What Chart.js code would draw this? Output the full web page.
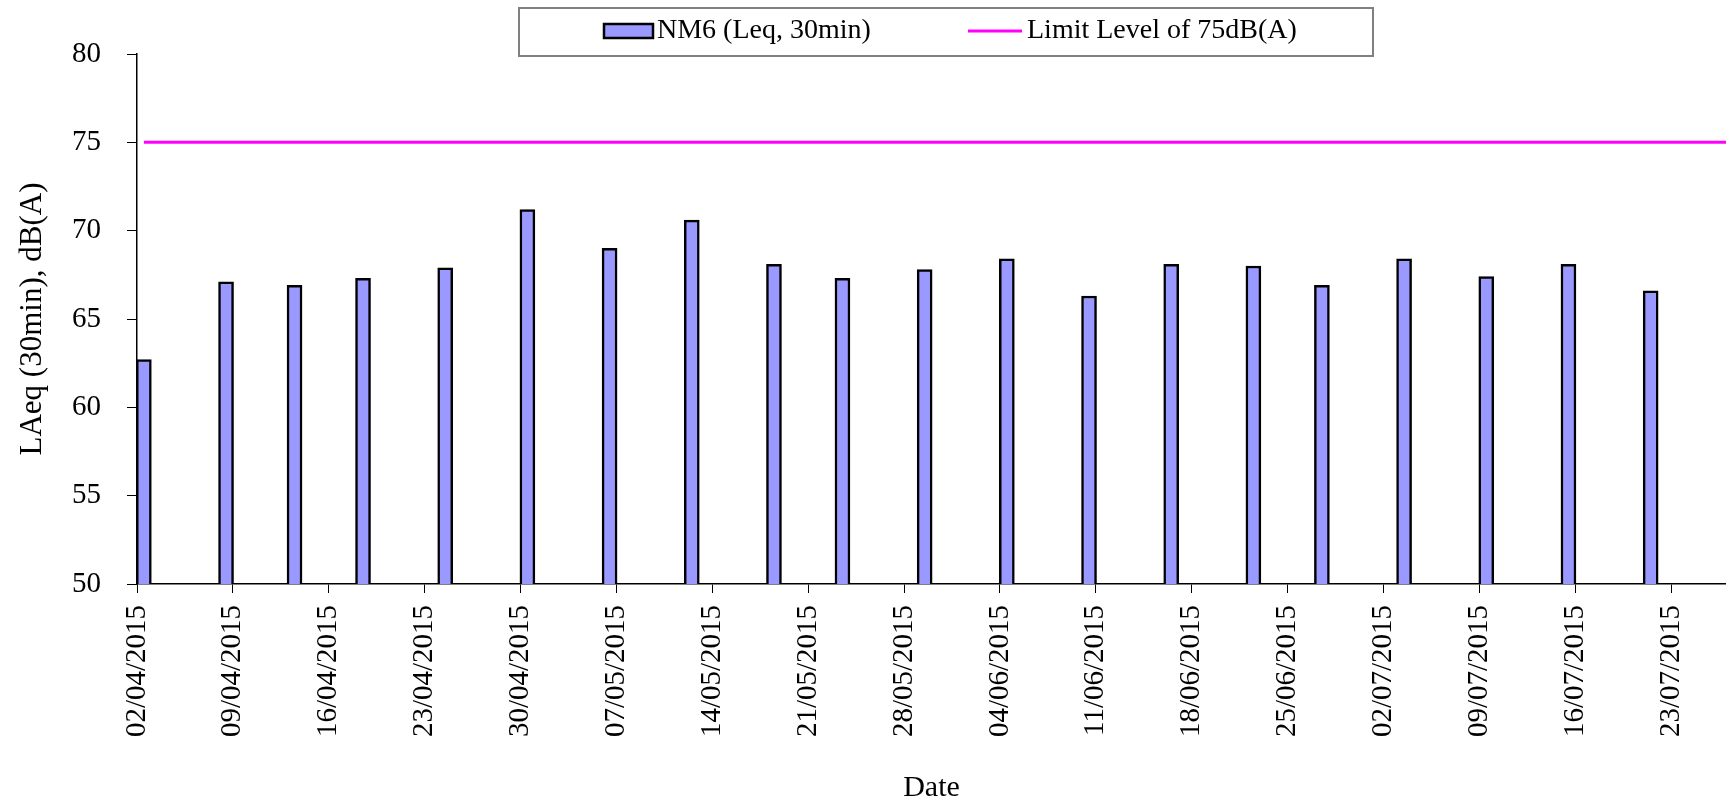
<!DOCTYPE html>
<html>
<head>
<meta charset="utf-8">
<title>NM6 LAeq 30min</title>
<script src="https://cdn.jsdelivr.net/npm/chart.js@4.4.1/dist/chart.umd.min.js"></script>
<style>
  html, body { margin: 0; padding: 0; background: #fff; }
  #wrap { width: 1726px; height: 806px; position: relative; }
</style>
</head>
<body>
<div id="wrap"><canvas id="noise-chart"></canvas></div>
<script>
// dates of the measurements (dd/mm/yyyy) and the LAeq readings at NM6
const dates = ['02/04/2015', '08/04/2015', '13/04/2015', '18/04/2015', '24/04/2015',
               '30/04/2015', '06/05/2015', '12/05/2015', '18/05/2015', '23/05/2015',
               '29/05/2015', '04/06/2015', '10/06/2015', '16/06/2015', '22/06/2015',
               '27/06/2015', '03/07/2015', '09/07/2015', '15/07/2015', '21/07/2015'];
const laeq = [62.7, 67.1, 66.9, 67.3, 67.9, 71.2, 69.0, 70.6, 68.1, 67.3,
              67.8, 68.4, 66.3, 68.1, 68.0, 66.9, 68.4, 67.4, 68.1, 66.6];
const limitLevel = 75;

// weekly tick labels on the date axis, and where the axis stops
const tickLabels = ['02/04/2015', '09/04/2015', '16/04/2015', '23/04/2015', '30/04/2015',
                    '07/05/2015', '14/05/2015', '21/05/2015', '28/05/2015', '04/06/2015',
                    '11/06/2015', '18/06/2015', '25/06/2015', '02/07/2015', '09/07/2015',
                    '16/07/2015', '23/07/2015'];
const axisEnd = '27/07/2015';
const yMin = 50, yMax = 80, yStep = 5;

const FONT = "'Liberation Serif', 'Times New Roman', serif";

function dayNum(s) {
    const [d, m, y] = s.split('/').map(Number);
    return Date.UTC(y, m - 1, d) / 86400000;
}
const day0 = dayNum(tickLabels[0]);
const toDay = s => dayNum(s) - day0;
const tickDays = tickLabels.map(toDay);

// like excel, a bar sits in the middle of its day
const barPoints = dates.map((d, i) => ({ x: toDay(d) + 0.5, y: laeq[i] }));
const limitPoints = [
    { x: toDay(dates[0]) + 0.5, y: limitLevel },
    { x: toDay(axisEnd), y: limitLevel }
];

// framed legend, drawn by hand (excel style)
const boxedLegend = {
    id: 'boxedLegend',
    afterDraw(chart) {
        const ctx = chart.ctx;
        const [bars, limit] = chart.data.datasets;
        const cy = 31;
        ctx.save();
        ctx.strokeStyle = '#808080';
        ctx.lineWidth = 2;
        ctx.strokeRect(519, 8, 854, 48);

        ctx.fillStyle = bars.backgroundColor;
        ctx.fillRect(603, 23, 51, 16);
        ctx.strokeStyle = '#000';
        ctx.lineWidth = 2.5;
        ctx.strokeRect(604, 24, 49, 14);

        ctx.font = '28px ' + FONT;
        ctx.textBaseline = 'middle';
        ctx.fillStyle = '#000';
        ctx.fillText(bars.label, 657, cy);

        ctx.strokeStyle = limit.borderColor;
        ctx.lineWidth = 3;
        ctx.beginPath();
        ctx.moveTo(968, cy);
        ctx.lineTo(1022, cy);
        ctx.stroke();
        ctx.fillText(limit.label, 1027, cy);
        ctx.restore();
    }
};

Chart.defaults.font.family = FONT;
Chart.defaults.color = '#000';

new Chart(document.getElementById('noise-chart'), {
    type: 'bar',
    data: {
        datasets: [{
            label: 'NM6 (Leq, 30min)',
            data: barPoints,
            backgroundColor: '#9999FF',
            borderColor: '#000',
            borderWidth: 2.5,
            borderSkipped: false,
            barThickness: 15,
            order: 2
        }, {
            type: 'line',
            label: 'Limit Level of 75dB(A)',
            data: limitPoints,
            borderColor: '#FF00FF',
            borderWidth: 3,
            pointRadius: 0,
            fill: false,
            order: 1
        }]
    },
    options: {
        responsive: true,
        maintainAspectRatio: false,
        animation: false,
        layout: { padding: { top: 54, left: 10, right: 0, bottom: 0 } },
        plugins: {
            legend: { display: false },
            tooltip: { enabled: false }
        },
        scales: {
            x: {
                type: 'linear',
                min: 0,
                max: toDay(axisEnd),
                offset: false,
                afterBuildTicks: scale => {
                    scale.ticks = tickDays.map(v => ({ value: v }));
                },
                afterFit: scale => { scale.height = 222; },
                ticks: {
                    autoSkip: false,
                    minRotation: 90,
                    maxRotation: 90,
                    padding: 12,
                    font: { size: 29 },
                    callback: v => tickLabels[tickDays.indexOf(v)]
                },
                grid: { drawOnChartArea: false, offset: false, tickLength: 9, color: '#000' },
                border: { color: '#000', width: 1.5 },
                title: { display: true, text: 'Date', font: { size: 30 }, padding: { top: 4, bottom: 0 } }
            },
            y: {
                min: yMin,
                max: yMax,
                afterFit: scale => { scale.width = 127; },
                ticks: { stepSize: yStep, padding: 26, font: { size: 29 } },
                grid: { drawOnChartArea: false, tickLength: 10, color: '#000' },
                border: { color: '#000', width: 1.5 },
                title: { display: true, text: 'LAeq (30min), dB(A)', font: { size: 31 }, padding: { top: 4, bottom: 4 } }
            }
        }
    },
    plugins: [boxedLegend]
});
</script>
</body>
</html>
